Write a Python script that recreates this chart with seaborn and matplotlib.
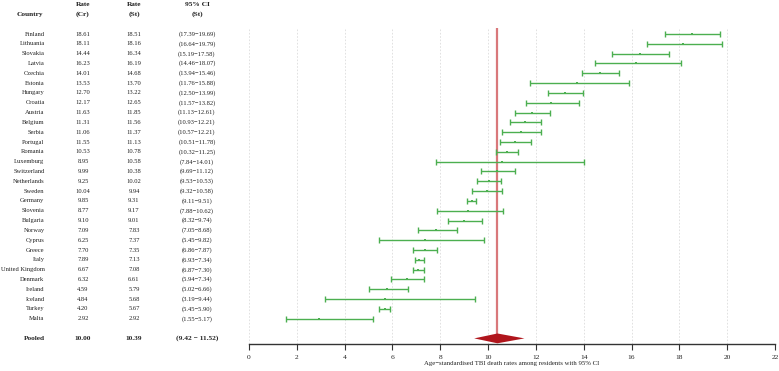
import numpy as np
import matplotlib
matplotlib.use("Agg")
import matplotlib.pyplot as plt
import matplotlib.transforms as mtransforms
import seaborn as sns

countries = ["Finland", "Lithuania", "Slovakia", "Latvia", "Czechia", "Estonia", "Hungary", "Croatia",
             "Austria", "Belgium", "Serbia", "Portugal", "Romania", "Luxemburg", "Switzerland",
             "Netherlands", "Sweden", "Germany", "Slovenia", "Bulgaria", "Norway", "Cyprus", "Greece",
             "Italy", "United Kingdom", "Denmark", "Ireland", "Iceland", "Turkey", "Malta"]
rate_cr = [18.61, 18.11, 14.44, 16.23, 14.01, 13.53, 12.70, 12.17, 11.63, 11.31, 11.06, 11.55, 10.53,
           8.95, 9.99, 9.25, 10.04, 9.85, 8.77, 9.10, 7.09, 6.25, 7.70, 7.89, 6.67, 6.32, 4.59, 4.84,
           4.20, 2.92]
rate_st = [18.51, 18.16, 16.34, 16.19, 14.68, 13.70, 13.22, 12.65, 11.85, 11.56, 11.37, 11.13, 10.78,
           10.58, 10.38, 10.02, 9.94, 9.31, 9.17, 9.01, 7.83, 7.37, 7.35, 7.13, 7.08, 6.61, 5.79, 5.68,
           5.67, 2.92]
ci_lo = [17.39, 16.64, 15.19, 14.46, 13.94, 11.76, 12.50, 11.57, 11.13, 10.93, 10.57, 10.51, 10.32,
         7.84, 9.69, 9.53, 9.32, 9.11, 7.88, 8.32, 7.05, 5.45, 6.86, 6.93, 6.87, 5.94, 5.02, 3.19,
         5.45, 1.55]
ci_hi = [19.69, 19.79, 17.58, 18.07, 15.46, 15.88, 13.99, 13.82, 12.61, 12.21, 12.21, 11.78, 11.25,
         14.01, 11.12, 10.53, 10.58, 9.51, 10.62, 9.74, 8.68, 9.82, 7.87, 7.34, 7.30, 7.34, 6.66, 9.44,
         5.90, 5.17]
pooled_cr = 10.00
pooled_st = 10.39
pooled_lo = 9.42
pooled_hi = 11.52
x_ticks = [0, 2, 4, 6, 8, 10, 12, 14, 16, 18, 20, 22]

sns.set_style("white")
plt.rcParams["font.family"] = ["Liberation Serif", "DejaVu Serif"]

fig = plt.figure(figsize=(7.79, 3.71), dpi=100)
ax = fig.add_axes([249 / 779, 0.0736, 526 / 779, 0.8509])

ypos = np.arange(len(countries))
pooled_y = len(countries) + 1
green = "#4caf50"

# vertical grid
for t in x_ticks:
    ax.axvline(t, color="#dcdcdc", lw=0.6, ls=(0, (2, 2)), zorder=0)

# CI bars and points
err = [np.array(rate_st) - np.array(ci_lo), np.array(ci_hi) - np.array(rate_st)]
ax.errorbar(rate_st, ypos, xerr=err, fmt="none", ecolor=green, elinewidth=1.0, capsize=2.0,
            capthick=1.0, zorder=3)
sns.scatterplot(x=rate_st, y=ypos, ax=ax, color=green, marker="s", s=3, linewidth=0, zorder=4)

# pooled line and diamond
ax.plot([pooled_st, pooled_st], [-0.6, pooled_y], color="#d9787b", lw=1.6, zorder=2)
ax.fill([pooled_lo, pooled_st, pooled_hi, pooled_st],
        [pooled_y, pooled_y - 0.5, pooled_y, pooled_y + 0.5], color="#b0151c", lw=0, zorder=5)

ax.set_xlim(0, 22)
ax.set_ylim(31.54, -0.61)
ax.set_xticks(x_ticks)
ax.set_yticks([])
for s in ["top", "right", "left"]:
    ax.spines[s].set_visible(False)
ax.spines["bottom"].set_color("#333333")
ax.spines["bottom"].set_linewidth(1.0)
ax.tick_params(axis="x", bottom=True, length=4, width=0.8, color="#333333", labelsize=5.4,
               pad=4, labelcolor="#222222")
ax.set_xlabel("Age\u2212standardised TBI death rates among residents with 95% CI", fontsize=4.9,
              labelpad=1, color="#222222")

# table on the left
tr = mtransforms.blended_transform_factory(fig.transFigure, ax.transData)
x_country = 44.5 / 779
x_cr = 83 / 779
x_st = 134 / 779
x_ci = 197 / 779
fs = 4.7
for i, c in enumerate(countries):
    ax.text(x_country, i, c, transform=tr, ha="right", va="center", fontsize=fs, color="#222222")
    ax.text(x_cr, i, f"{rate_cr[i]:.2f}", transform=tr, ha="center", va="center", fontsize=fs, color="#222222")
    ax.text(x_st, i, f"{rate_st[i]:.2f}", transform=tr, ha="center", va="center", fontsize=fs, color="#222222")
    ax.text(x_ci, i, f"({ci_lo[i]:.2f}\u2212{ci_hi[i]:.2f})", transform=tr, ha="center", va="center",
            fontsize=fs, color="#222222")

fsb = 5.3
ax.text(x_country, pooled_y, "Pooled", transform=tr, ha="right", va="center", fontsize=fsb, weight="bold")
ax.text(x_cr, pooled_y, f"{pooled_cr:.2f}", transform=tr, ha="center", va="center", fontsize=fsb, weight="bold")
ax.text(x_st, pooled_y, f"{pooled_st:.2f}", transform=tr, ha="center", va="center", fontsize=fsb, weight="bold")
ax.text(x_ci, pooled_y, f"({pooled_lo:.2f} \u2212 {pooled_hi:.2f})", transform=tr, ha="center",
        va="center", fontsize=fsb, weight="bold")

# headers
hdr = dict(ha="center", va="center", fontsize=fsb, weight="bold", color="#222222")
fig.text(30 / 779, 1 - 14.3 / 371, "Country", **hdr)
fig.text(x_cr, 1 - 5 / 371, "Rate", **hdr)
fig.text(x_cr, 1 - 14.3 / 371, "(Cr)", **hdr)
fig.text(x_st, 1 - 5 / 371, "Rate", **hdr)
fig.text(x_st, 1 - 14.3 / 371, "(St)", **hdr)
fig.text(x_ci, 1 - 5 / 371, "95% CI", **hdr)
fig.text(x_ci, 1 - 14.3 / 371, "(St)", **hdr)

fig.savefig("out.png", dpi=100)
